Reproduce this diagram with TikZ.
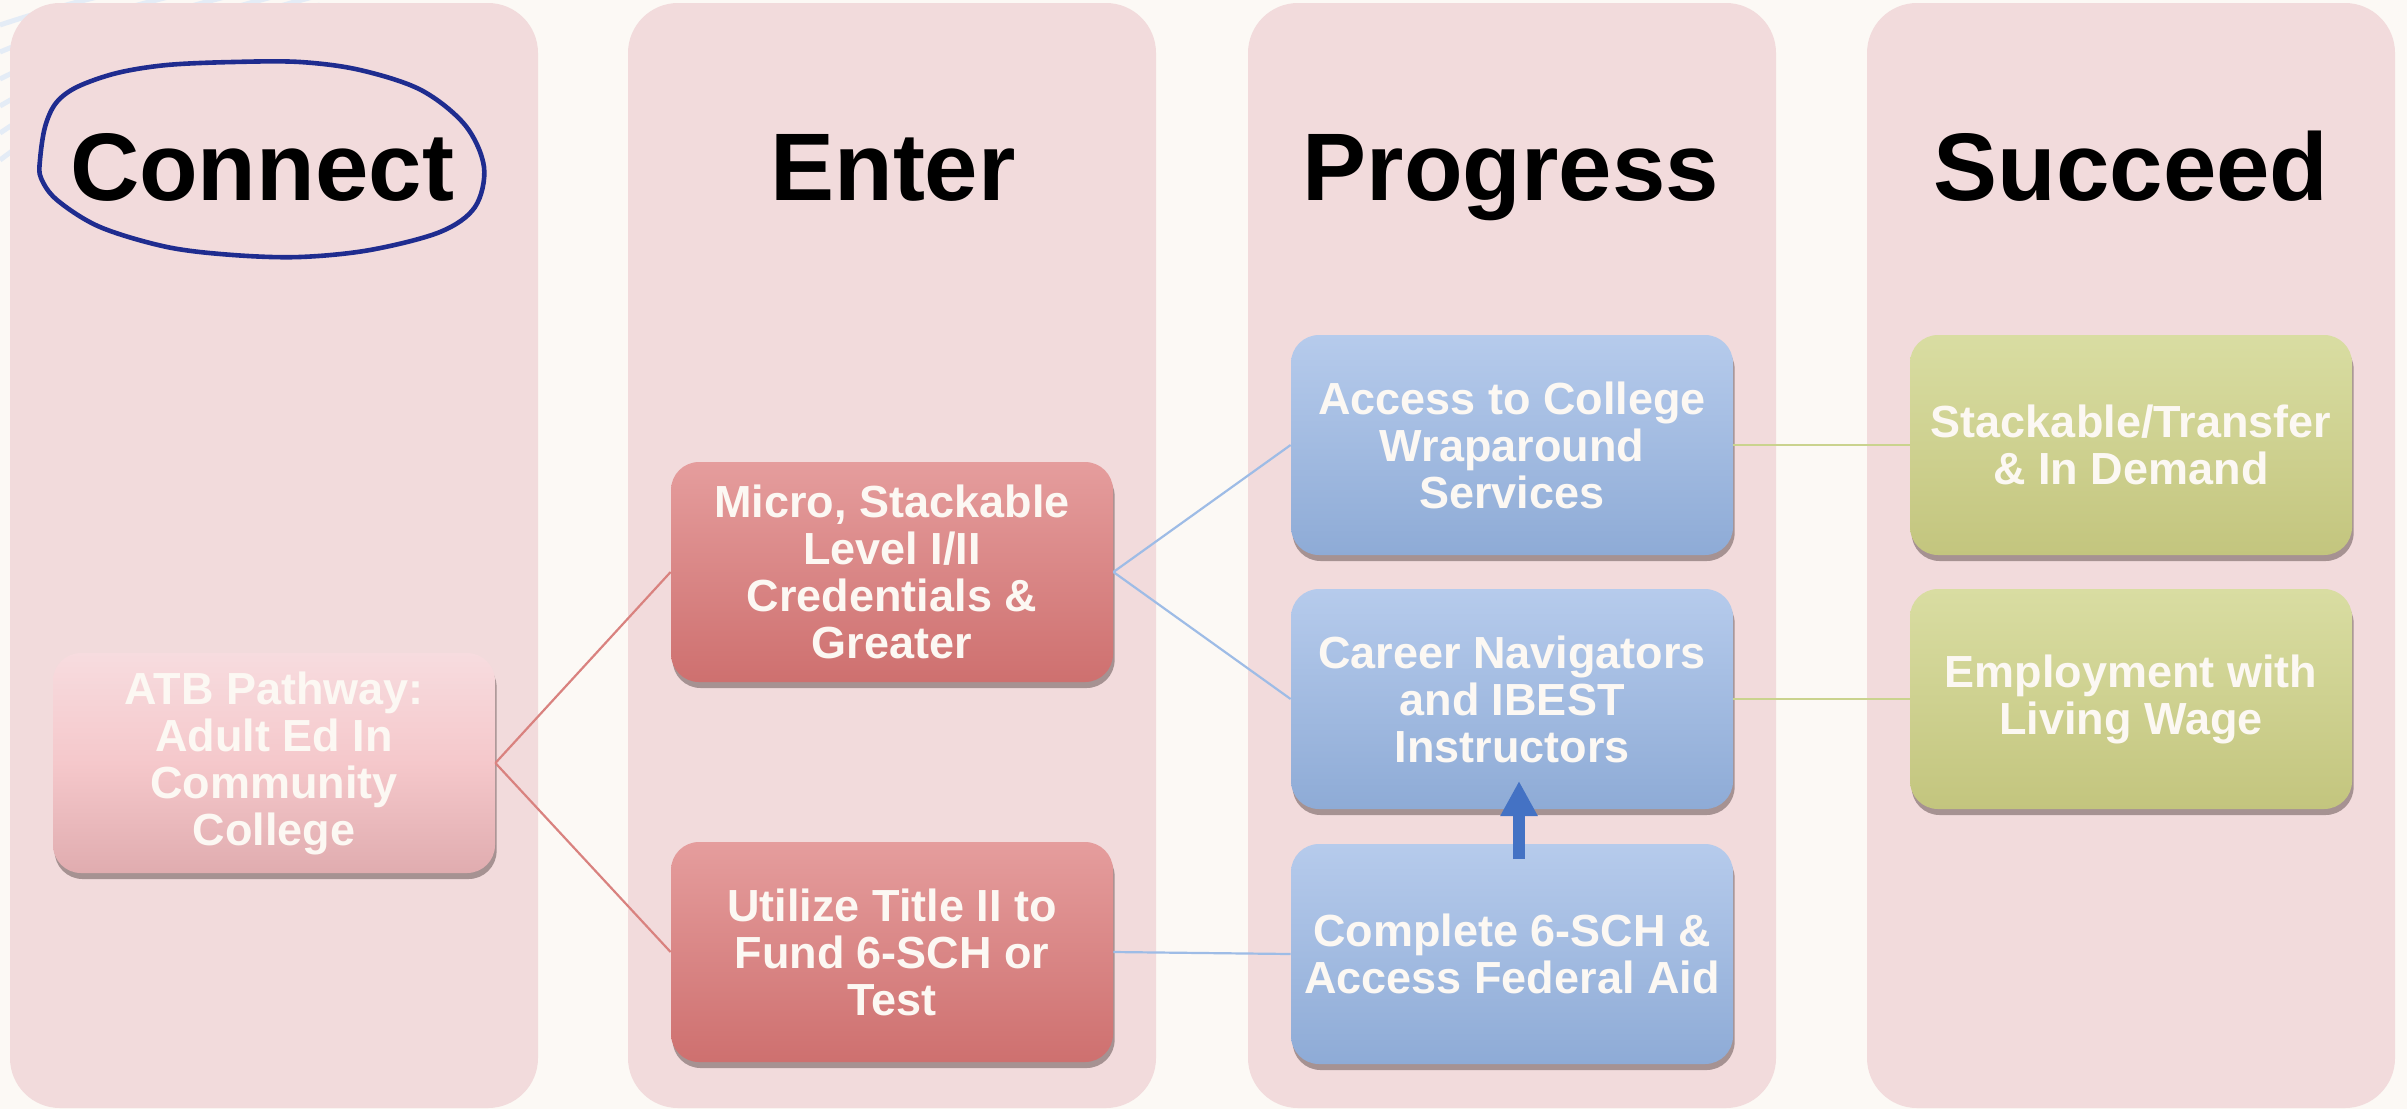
\documentclass[tikz,border=0pt]{standalone}
\usepackage{fontspec}
\setmainfont{Liberation Sans}
\usetikzlibrary{shadows,arrows.meta}
\definecolor{bg}{HTML}{FCF9F5}
\definecolor{colfill}{HTML}{F2DBDC}
\definecolor{cardtext}{HTML}{FCF8F3}
\definecolor{shadowc}{HTML}{4A3A3A}
\definecolor{atbTop}{HTML}{F7DCDF}
\definecolor{atbMid}{HTML}{F5C8CB}
\definecolor{atbBot}{HTML}{E0ACAF}
\definecolor{redTop}{HTML}{E59D9D}
\definecolor{redBot}{HTML}{CE706F}
\definecolor{blueTop}{HTML}{B6CBEC}
\definecolor{blueBot}{HTML}{8EABD6}
\definecolor{greenTop}{HTML}{D9DDA2}
\definecolor{greenBot}{HTML}{C3C57E}
\definecolor{redline}{HTML}{D9827F}
\definecolor{blueline}{HTML}{9EBCE6}
\definecolor{greenline}{HTML}{CAD38E}
\definecolor{arrowblue}{HTML}{4472C4}
\definecolor{navy}{HTML}{1F2C8F}
\definecolor{swirlc}{HTML}{E4ECF6}
\begin{document}
\begin{tikzpicture}[x=0.5pt,y=-0.5pt,
  colbox/.style={fill=colfill, draw=none, rounded corners=25pt, minimum width=264pt, minimum height=552.5pt, inner sep=0pt},
  header/.style={font=\fontsize{48}{50}\selectfont\bfseries, text=black, anchor=base, inner sep=0pt},
  card/.style={rounded corners=14pt, minimum width=221pt, minimum height=110pt, inner sep=0pt, align=center, text=cardtext,
    font=\fontsize{22.5}{23.5}\selectfont\bfseries,
    drop shadow={shadow xshift=0.8pt, shadow yshift=-3pt, opacity=0.45, fill=shadowc}},
  atbcard/.style={card, top color=atbTop, bottom color=atbBot, middle color=atbMid},
  redcard/.style={card, top color=redTop, bottom color=redBot},
  bluecard/.style={card, top color=blueTop, bottom color=blueBot},
  greencard/.style={card, top color=greenTop, bottom color=greenBot},
  redconn/.style={draw=redline, line width=1.1pt},
  blueconn/.style={draw=blueline, line width=1.1pt},
  greenconn/.style={draw=greenline, line width=1.1pt},
  swirl/.style={draw=swirlc, line width=2.5pt},
]
\useasboundingbox (0,0) rectangle (2407,1109);
\fill[bg] (0,0) rectangle (2407,1109);
\begin{scope}
\clip (0,0) rectangle (600,300);
\draw[swirl] (0,25) .. controls (60,5) and (150,-20) .. (320,-45);
\draw[swirl] (0,52) .. controls (60,27) and (150,-5) .. (320,-35);
\draw[swirl] (0,79) .. controls (60,49) and (150,10) .. (320,-25);
\draw[swirl] (0,106) .. controls (60,71) and (150,25) .. (320,-15);
\draw[swirl] (0,133) .. controls (60,93) and (150,40) .. (320,-5);
\draw[swirl] (0,160) .. controls (60,115) and (150,55) .. (320,5);
\end{scope}

% columns
\node[colbox] (col1) at (274,555.5) {};
\node[colbox] (col2) at (892,555.5) {};
\node[colbox] (col3) at (1512,555.5) {};
\node[colbox] (col4) at (2131,555.5) {};

% headers
\node[header] (hconnect) at (262,200) {Connect};
\node[header] (henter) at (893,200) {Enter};
\node[header] (hprogress) at (1511,200) {Progress};
\node[header] (hsucceed) at (2131,200) {Succeed};

% hand-drawn ellipse
\draw[navy, line width=2.3pt, line join=round] plot[smooth cycle, tension=0.55] coordinates {
  (40,160) (45,127) (56,103) (77,87) (117,73) (167,65) (233,62) (300,62) (360,70)
  (421,90) (465,125) (484,167) (475,207) (440,232) (370,250) (300,257) (233,255)
  (167,247) (100,227) (57,200) (41,178)};

% cards
\node[atbcard] (atb) at (274,763) {ATB Pathway:\\Adult Ed In\\Community\\College};
\node[redcard] (micro) at (892,572) {Micro, Stackable\\Level I/II\\Credentials \&\\Greater};
\node[redcard] (util) at (892,952) {Utilize Title II to\\Fund 6-SCH or\\Test};
\node[bluecard] (access) at (1512,445) {Access to College\\Wraparound\\Services};
\node[bluecard] (career) at (1512,699) {Career Navigators\\and IBEST\\Instructors};
\node[bluecard] (complete) at (1512,954) {Complete 6-SCH \&\\Access Federal Aid};
\node[greencard] (stack) at (2131,445) {Stackable/Transfer\\\& In Demand};
\node[greencard] (employ) at (2131,699) {Employment with\\Living Wage};

% connectors
\draw[redconn] (atb.east) -- (micro.west);
\draw[redconn] (atb.east) -- (util.west);
\draw[blueconn] (micro.east) -- (access.west);
\draw[blueconn] (micro.east) -- (career.west);
\draw[blueconn] (util.east) -- (complete.west);
\draw[greenconn] (access.east) -- (stack.west);
\draw[greenconn] (career.east) -- (employ.west);

% thick arrow
\coordinate (arrS) at (1519,859);
\coordinate (arrE) at (1519,781);
\draw[arrowblue, line width=5.75pt, -{Triangle[width=17.5pt,length=17.5pt]}] (arrS) -- (arrE);
\end{tikzpicture}
\end{document}
